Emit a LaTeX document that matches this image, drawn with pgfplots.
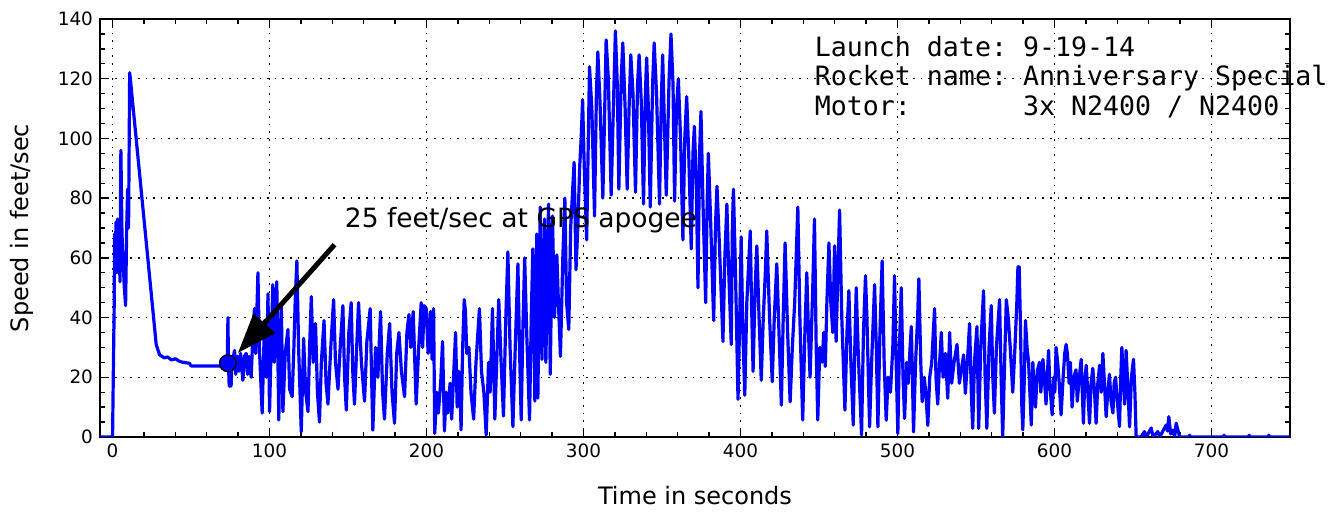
\documentclass[border=0pt]{standalone}
\usepackage{pgfplots}
\pgfplotsset{compat=1.18}
\usepackage{fontspec}
\setmainfont{DejaVu Sans}
\newfontfamily\monofont{DejaVu Sans Mono}
\usetikzlibrary{arrows.meta}
\frenchspacing
\begin{document}
\begin{tikzpicture}
\begin{axis}[
 scale only axis, width=595pt, height=209pt,
 xmin=-8, xmax=750, ymin=0, ymax=140,
 xtick={0,100,...,700}, ytick={0,20,...,140},
 minor x tick num=4, minor y tick num=3,
 tick pos=both, tick align=inside,
 major tick length=4.5pt, minor tick length=2.5pt,
 every tick/.style={black, line width=0.7pt},
 axis line style={line width=1pt},
 grid=major, major grid style={black, line width=0.7pt, dash pattern=on 0.8pt off 3pt},
 xlabel={Time in seconds}, ylabel={Speed in feet/sec},
 label style={font=\fontsize{12}{14}\selectfont},
 tick label style={font=\fontsize{9.2}{11}\selectfont},
 /pgf/number format/assume math mode=true,
 xlabel style={at={(axis description cs:0.5,-0.139)}, anchor=center},
 ylabel style={at={(axis description cs:-0.0655,0.5)}, anchor=center},
 clip mode=individual,
]
\addplot[blue, line width=1.6pt, line join=round] coordinates {
(-8,0)(0,0)(0.5,22)(1,42)(1.3,68)(1.8,60)(2.2,72)(2.7,55)(3.2,73)(3.7,63)(4.2,72)(4.7,52)(5.3,96)(6,68)(6.8,58)(7.5,50)(8.3,44)(9,70)(9.6,83)(10.2,70)(10.9,122)(11.5,119)
(27.8,31)(29,29)(30,27.5)(33,26.5)(35,26.8)(37.5,25.8)(40,26.2)(42.8,25.3)(45,25)(49,24.7)(50,23.8)(71.5,23.8)(73,24)(73.5,40)(73.8,25)(74.3,17)(75,25)(75.5,17)(76,24)
(77.7,29)(78.5,21)(79.5,27)(80.5,22)(81.5,28)(83,19)(84,27)(85.1,28)(86,21)(87,27)(88.3,20)(89.5,36)(90.4,43)(91.2,28)(92.6,55)(93.5,30)(95.3,8)(96.8,39)(98,20)(99,48)
(100,8.5)(101,30)(102.1,51)(103,25)(104.6,52)(105.9,5.7)(106.5,30)(107.5,44)(108.5,8.5)(110,28)(111.7,36)(112.8,16)(114.4,13.5)(115.5,30)(116.3,45)(117.4,59)(118.5,30)
(120.2,1.8)(121.7,33)(123,15)(124.5,8.5)(125.5,30)(126.6,47)(127.8,25)(129.3,38)(130.5,15)(131.8,5)(133,25)(134.7,39)(136,18)(137.2,11)(139,30)(140.8,46)(142,25)
(143.6,16)(145,30)(146.7,44)(147.8,20)(148.9,9)(150.5,35)(152,45)(153,22)(154.1,11)(155.5,30)(156.7,45)(158.5,25)(160.5,12)(162,32)(164.1,43)(165,20)(165.8,2.3)
(167.5,30)(169,20)(170.7,42)(172,15)(173.2,6)(175,28)(176.5,38)(178,15)(179.6,4.6)(181,28)(182.4,35)(184,22)(186,13.5)(187.5,35)(188.8,41)(190,30)(191.5,42)(193.4,11)
(195,30)(196.6,45)(197.5,30)(198.5,44)(199.8,43)(201,28)(202.5,42)(203.5,26)(204.5,43)(205.2,1.2)(206.5,15)(207.5,8)(209,18)(210.2,32)(211.4,2)(212.5,15)(213.5,8)
(215,18)(216,6)(217.2,20)(218.5,35)(219.5,10)(220.5,22)(221.5,12)(222,2.4)(223,30)(224,46)(224.8,42)(225.6,28)(227,30)(228.3,15)(230,6)(231.5,25)(233.7,43)(235,22)
(236.5,15)(238,0.7)(239.5,25)(240.5,15)(242,43)(243.5,6)(245,30)(246,46)(247.5,25)(249,7)(250.5,40)(251.8,62)(253.2,30)(255,3.5)(256.5,30)(258.2,58)(259.2,30)(260.3,5.7)
(261.3,35)(262.5,60)(263.8,35)(265.6,5.7)(266.7,40)(267.7,63)(269,12)(270.2,68)(270.9,13)(272.4,77)(273.5,26)(275.1,73)(276,25)(277.7,78)(278.8,21)(280.2,74)(281.5,40)
(283,61)(284,45)(285.3,27)(286.8,60)(288.1,80)(289.2,45)(290.6,36)(291.8,70)(294,92)(295.2,56)(296.5,72)(297.5,90)(298.5,100)(299.4,113)(300.5,90)(302,66)(303.8,124)
(305.3,110)(307,74)(308.2,115)(309.1,129)(310.5,112)(312.3,80)(313.5,110)(314.4,133)(315.8,120)(317.6,81)(319,110)(320.3,136)(321.5,118)(322.5,83)(324,120)(325,132)
(326.5,110)(327.8,83)(329,110)(330.1,128)(331.5,115)(333.1,82)(334.4,118)(335.4,128)(336.8,112)(338.2,78)(339.4,115)(340.2,127)(341.3,110)(342.5,77)(344,118)(345,132)
(346.5,115)(348.4,78)(349.5,112)(350.4,128)(351.5,105)(352.7,81)(354.5,120)(355.7,135)(357,118)(358,79)(359.2,110)(360.4,120)(361.8,100)(363.3,66)(364.5,100)(365.7,114)
(367,95)(368.6,63)(369.7,95)(370.6,104)(371.8,85)(372.9,50)(373.9,95)(374.8,109)(376,80)(377.8,45)(378.8,80)(379.5,95)(380.8,75)(382.9,39)(384,70)(385,84)(386.5,65)
(388.8,32)(390,60)(391.3,78)(392.5,55)(394.1,31)(394.8,70)(395.5,83)(396.8,55)(398.4,12.6)(399.5,40)(400.4,67)(401.5,35)(402.7,14)(404,45)(406.2,69)(407,45)(408,22)
(409.3,50)(410.4,64)(411.8,40)(413.2,19)(414.5,40)(415.8,55)(416.7,69)(418.5,40)(420.2,18.5)(421.5,40)(423.1,58)(424.5,35)(426,10.7)(427.2,40)(428.4,65)(430,35)
(431.6,11.8)(433,30)(434.5,45)(436.5,77)(437.8,40)(439.6,5.7)(441,35)(442.2,55)(443.3,35)(444.3,20)(446,50)(447.1,73)(448.2,30)(449.2,5.7)(450.5,30)(452,25)(453,35)
(454,23.6)(455,45)(456.3,65)(457.5,45)(458.8,35)(459.9,64)(460.9,32)(462,55)(463.1,76)(464.5,40)(466.5,9)(467.8,35)(469,49)(470.3,25)(471.8,4)(472.8,30)(473.7,50)
(475,28)(477.1,0.7)(478.3,35)(479.6,54)(480.5,40)(482.2,3.4)(483.5,25)(485.4,51)(486.5,30)(487.5,3.4)(488.8,35)(490.2,59)(491.5,25)(492.8,5.6)(494,20)(495.5,15)(497,30)
(498.1,54)(499,28)(500.2,1.2)(501.2,30)(502.4,50)(503.5,20)(504.5,6.2)(505.8,25)(506.8,18)(508,30)(508.8,37)(509.8,12)(510.2,1.7)(511.5,25)(512.8,40)(513.6,53)(514.8,25)
(515.7,11.8)(517,20)(518,15)(519.3,3.9)(520.5,20)(521.8,25)(523.6,43)(524.5,20)(525.6,11)(526.8,25)(527.9,35)(529,20)(530.5,28)(532,13)(533.2,35)(534.5,18)(536,25)
(537.9,31)(539.4,18)(540.5,22)(542.1,27.5)(543.2,14.6)(544.5,25)(545.9,38)(547,15)(547.9,2.9)(549,25)(550.6,37)(551.7,2.9)(553,30)(554.8,49)(555.8,20)(556.9,2.9)
(558.3,30)(559.7,44)(560.7,20)(561.7,8)(563,30)(565,46)(566,20)(567,0)(568.2,25)(569.3,46)(570.5,40)(571.8,30)(573.4,15)(574.8,30)(576,45)(576.7,57)(577.5,57)(578.2,40)
(579.2,10)(579.8,2.4)(580.8,20)(581.5,39)(582.5,30)(583.5,25)(584.3,15)(585.2,4)(586.2,25)(587,15)(587.9,10)(589,22)(590.4,25)(591.3,15)(592.6,26)(593.5,20)(594.6,11)
(596.2,29)(597,18)(598.5,7.4)(599.5,20)(600.2,15)(601,30)(602,25)(603,18)(604.2,7.4)(605.5,20)(606.5,28)(607.4,31)(608.2,28)(609.3,18)(610.1,25)(611.2,10)(612.3,20)
(613.7,22.5)(614.5,12)(615.8,20)(617,26)(618.4,4.6)(619.2,18)(620.2,24)(621.2,15)(622.3,4.6)(623.3,18)(624.4,23)(625.5,15)(626.5,4.6)(627.6,18)(628.7,24)(629.8,15)
(630.8,28)(631.8,18)(632.9,6.8)(633.9,15)(635,21)(636,12)(637.2,8)(638,18)(638.9,20)(640,12)(641.4,3.5)(642.2,20)(642.9,30)(643.8,20)(644.6,11)(645.6,29)(646.6,18)
(647.8,3.4)(649,20)(650.3,26)(651.2,15)(652,0)(655,0)(657.3,1.8)(658.5,0)(661.6,3)(662.8,0)(665.8,1.8)(667,0)(671.1,4)(672,2)(672.8,6.8)(674,1)(675.4,2.3)(676.5,0)
(677.5,4.6)(679.7,0)(685.5,0)(686,0.6)(686.5,0)(707.5,0)(708,0.6)(708.5,0)(723.5,0)(724,0.6)(724.5,0)(736,0)(736.5,0.6)(737,0)(750,0)
};
\addplot[only marks, mark=*, mark size=4.2pt, mark options={fill=blue, draw=black, line width=0.6pt}] coordinates {(73.4,24.7)};
\draw[line width=2.5pt, -{Triangle[length=20pt, width=14pt]}] (axis cs:141.4,64.4) -- (axis cs:79.8,28.1);
\node[anchor=base west, inner sep=0pt, font=\fontsize{13.25}{15}\selectfont] at (axis cs:147.8,70.1) {25 feet/sec at GPS apogee};
\node[anchor=base west, inner sep=0pt, font=\monofont\fontsize{13.3}{15}\selectfont] at (axis cs:447.1,127.5) {Launch date: 9-19-14};
\node[anchor=base west, inner sep=0pt, font=\monofont\fontsize{13.3}{15}\selectfont] at (axis cs:447.1,117.6) {Rocket name: Anniversary Special};
\node[anchor=base west, inner sep=0pt, font=\monofont\fontsize{13.3}{15}\selectfont] at (axis cs:447.1,107.7) {Motor:\phantom{MMMMMMM}3x N2400 / N2400};
\end{axis}
\path (current axis.south west) ++(-50pt,-35pt) coordinate (bbl);
\path (current axis.north east) ++(19.5pt,9.5pt) coordinate (bbr);
\path (bbl) rectangle (bbr);
\end{tikzpicture}
\end{document}
